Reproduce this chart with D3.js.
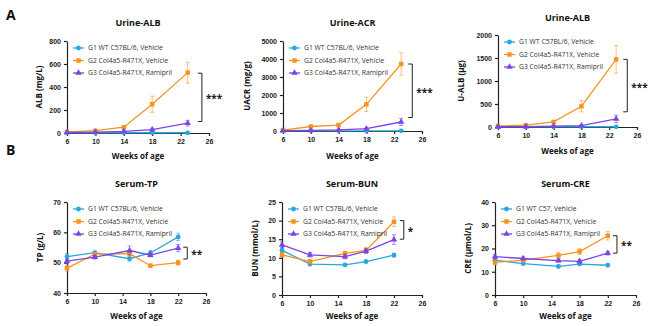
<!DOCTYPE html>
<html>
<head>
<meta charset="utf-8">
<script src="https://cdn.jsdelivr.net/npm/d3@7"></script>
<style>
  body { margin: 0; background: #fff; }
  svg { font-family: "Open Sans", "Noto Sans", sans-serif; }
  .axis path, .axis line { stroke: #222; stroke-width: 1.2; }
  .axis text { font-size: 7px; font-weight: 700; fill: #222; }
</style>
</head>
<body>
<div id="chart"></div>
<script>

// weeks of age at each sampling
var weeksUrine = [6, 10, 14, 18, 23];
var weeksSerum = [6, 10, 15, 18, 22];
var xTicks = [6, 10, 14, 18, 22, 26];

var groupNames = ["G1 WT C57BL/6, Vehicle", "G2 Col4a5-R471X, Vehicle", "G3 Col4a5-R471X, Ramipril"];
var groupNamesCre = ["G1 WT C57, Vehicle", "G2 Col4a5-R471X, Vehicle", "G3 Col4a5-R471X, Ramipril"];
var colors = ["#2aa6df", "#f7941d", "#7a45e4"];

// Urine-ALB (mg/L)
var albG1 = [2, 2, 2, 2, 2],        albG1Err = [1, 1, 1, 1, 1];
var albG2 = [10, 20, 50, 250, 525], albG2Err = [3, 5, 8, 70, 90];
var albG3 = [5, 8, 15, 30, 85],     albG3Err = [2, 2, 4, 8, 25];

// Urine-ACR (mg/g)
var acrG1 = [10, 10, 10, 10, 10],        acrG1Err = [5, 5, 5, 5, 5];
var acrG2 = [50, 250, 330, 1480, 3720],  acrG2Err = [20, 60, 60, 400, 620];
var acrG3 = [20, 30, 60, 130, 500],      acrG3Err = [10, 10, 20, 40, 200];

// Urine-ALB (ug)
var ualbG1 = [5, 5, 5, 5, 5],            ualbG1Err = [2, 2, 2, 2, 2];
var ualbG2 = [20, 40, 110, 450, 1470],   ualbG2Err = [5, 10, 20, 120, 300];
var ualbG3 = [5, 10, 20, 30, 175],       ualbG3Err = [3, 3, 5, 10, 80];

// Serum-TP (g/L)
var tpG1 = [52, 53.3, 51.3, 53.2, 58.5],  tpG1Err = [1, 0.5, 0.8, 0.8, 1.2];
var tpG2 = [48.2, 52.8, 53, 49, 50],      tpG2Err = [1, 0.5, 1, 0.5, 0.8];
var tpG3 = [50.5, 51.8, 54, 52.5, 54.8],  tpG3Err = [0.8, 0.6, 1.5, 0.6, 1.2];

// Serum-BUN (mmol/L)
var bunG1 = [12, 8.3, 8.1, 9, 10.7],      bunG1Err = [0.6, 0.4, 0.4, 0.4, 0.5];
var bunG2 = [10.8, 9, 11.2, 12, 19.7],    bunG2Err = [0.6, 0.5, 0.6, 0.8, 1.3];
var bunG3 = [13.5, 10.8, 10.3, 11.8, 14.9], bunG3Err = [0.8, 0.6, 0.6, 0.6, 1.3];

// Serum-CRE (umol/L)
var creG1 = [15, 13.5, 12.3, 13.3, 12.8], creG1Err = [0.6, 0.5, 0.6, 0.5, 0.5];
var creG2 = [14, 15, 17, 18.7, 25.5],     creG2Err = [1, 0.6, 1.2, 1.2, 1.8];
var creG3 = [16.5, 15.7, 14.8, 14.5, 18], creG3Err = [1, 0.6, 0.6, 0.8, 0.8];

var panels = [
  { title: "Urine-ALB", ylabel: "ALB (mg/L)", weeks: weeksUrine, names: groupNames,
    yDomain: [0, 800], yTicks: [0, 200, 400, 600, 800],
    series: [[albG1, albG1Err], [albG2, albG2Err], [albG3, albG3Err]],
    sig: "***", sigFrom: 520, sigTo: 100, sigAt: 25,
    box: { left: 67, right: 209, top: 41, bottom: 133, titleY: 26, ylabX: 42, xlabY: 159 } },
  { title: "Urine-ACR", ylabel: "UACR (mg/g)", weeks: weeksUrine, names: groupNames,
    yDomain: [0, 5000], yTicks: [0, 1000, 2000, 3000, 4000, 5000],
    series: [[acrG1, acrG1Err], [acrG2, acrG2Err], [acrG3, acrG3Err]],
    sig: "***", sigFrom: 3720, sigTo: 750, sigAt: 24.6,
    box: { left: 283, right: 422, top: 41, bottom: 131, titleY: 26, ylabX: 250, xlabY: 159 } },
  { title: "Urine-ALB", ylabel: "U-ALB (\u03bcg)", weeks: weeksUrine, names: groupNames,
    yDomain: [0, 2000], yTicks: [0, 500, 1000, 1500, 2000],
    series: [[ualbG1, ualbG1Err], [ualbG2, ualbG2Err], [ualbG3, ualbG3Err]],
    sig: "***", sigFrom: 1470, sigTo: 330, sigAt: 24.6,
    box: { left: 498, right: 637, top: 35, bottom: 127, titleY: 21, ylabX: 464, xlabY: 154 } },
  { title: "Serum-TP", ylabel: "TP (g/L)", weeks: weeksSerum, names: groupNames,
    yDomain: [40, 70], yTicks: [40, 50, 60, 70],
    series: [[tpG1, tpG1Err], [tpG2, tpG2Err], [tpG3, tpG3Err]],
    sig: "**", sigFrom: 55.1, sigTo: 51.2, sigAt: 23.3,
    box: { left: 67, right: 206, top: 202, bottom: 293, titleY: 187, ylabX: 43, xlabY: 319 } },
  { title: "Serum-BUN", ylabel: "BUN (mmol/L)", weeks: weeksSerum, names: groupNames,
    yDomain: [0, 25], yTicks: [0, 5, 10, 15, 20, 25],
    series: [[bunG1, bunG1Err], [bunG2, bunG2Err], [bunG3, bunG3Err]],
    sig: "*", sigFrom: 20, sigTo: 15, sigAt: 23.4,
    box: { left: 282, right: 422, top: 202, bottom: 295, titleY: 187, ylabX: 258, xlabY: 319 } },
  { title: "Serum-CRE", ylabel: "CRE (\u03bcmol/L)", weeks: weeksSerum, names: groupNamesCre,
    yDomain: [0, 40], yTicks: [0, 10, 20, 30, 40],
    series: [[creG1, creG1Err], [creG2, creG2Err], [creG3, creG3Err]],
    sig: "**", sigFrom: 25.5, sigTo: 18, sigAt: 23.3,
    box: { left: 495, right: 636, top: 202, bottom: 295, titleY: 187, ylabX: 471, xlabY: 319 } }
];

var svg = d3.select("#chart").append("svg")
  .attr("width", 650)
  .attr("height", 326);

svg.append("text").attr("x", 6).attr("y", 20)
  .style("font-size", "14px").style("font-weight", 700).attr("fill", "#111").text("A");
svg.append("text").attr("x", 6).attr("y", 155)
  .style("font-size", "14px").style("font-weight", 700).attr("fill", "#111").text("B");

var symbols = [d3.symbolCircle, d3.symbolSquare, d3.symbolTriangle];
var symSizes = [18, 20, 18];

panels.forEach(drawPanel);

function drawPanel(p) {
  var b = p.box;
  var g = svg.append("g");

  var x = d3.scaleLinear().domain([6, 26]).range([b.left, b.right]);
  var y = d3.scaleLinear().domain(p.yDomain).range([b.bottom, b.top]);

  g.append("g")
    .attr("class", "axis")
    .attr("transform", "translate(0," + b.bottom + ")")
    .call(d3.axisBottom(x).tickValues(xTicks).tickSize(3).tickSizeOuter(0));

  g.append("g")
    .attr("class", "axis")
    .attr("transform", "translate(" + b.left + ",0)")
    .call(d3.axisLeft(y).tickValues(p.yTicks).tickFormat(d3.format("d")).tickSize(3).tickSizeOuter(0));

  g.append("text")
    .attr("x", (b.left + b.right) / 2).attr("y", b.titleY)
    .attr("text-anchor", "middle")
    .style("font-size", "9px").style("font-weight", 700).attr("fill", "#111")
    .text(p.title);

  g.append("text")
    .attr("x", (b.left + b.right) / 2).attr("y", b.xlabY)
    .attr("text-anchor", "middle")
    .style("font-size", "8px").style("font-weight", 700).attr("fill", "#111")
    .text("Weeks of age");

  g.append("text")
    .attr("transform", "translate(" + b.ylabX + "," + ((b.top + b.bottom) / 2) + ") rotate(-90)")
    .attr("text-anchor", "middle")
    .style("font-size", "8px").style("font-weight", 700).attr("fill", "#111")
    .text(p.ylabel);

  var line = d3.line()
    .x(function (d) { return x(d.w); })
    .y(function (d) { return y(d.v); });

  p.series.forEach(function (s, i) {
    var pts = p.weeks.map(function (w, k) { return { w: w, v: s[0][k], e: s[1][k] }; });
    var sg = g.append("g");

    sg.selectAll(".err").data(pts).enter().append("path")
      .attr("d", function (d) {
        var cx = x(d.w), t = y(d.v + d.e), bo = y(Math.max(p.yDomain[0], d.v - d.e));
        return "M" + (cx - 2) + "," + t + "H" + (cx + 2) + "M" + cx + "," + t + "V" + bo + "M" + (cx - 2) + "," + bo + "H" + (cx + 2);
      })
      .attr("stroke", colors[i]).attr("stroke-opacity", 0.6).attr("stroke-width", 1).attr("fill", "none");

    sg.append("path").datum(pts)
      .attr("d", line)
      .attr("fill", "none").attr("stroke", colors[i]).attr("stroke-width", 1.3);

    sg.selectAll(".pt").data(pts).enter().append("path")
      .attr("transform", function (d) { return "translate(" + x(d.w) + "," + y(d.v) + ")"; })
      .attr("d", d3.symbol().type(symbols[i]).size(symSizes[i]))
      .attr("fill", colors[i]);
  });

  // legend
  p.names.forEach(function (name, i) {
    var ly = b.top + 7 + i * 12.5;
    var lx = b.left + 6;
    g.append("line").attr("x1", lx).attr("x2", lx + 11).attr("y1", ly).attr("y2", ly)
      .attr("stroke", colors[i]).attr("stroke-width", 1.3);
    g.append("path")
      .attr("transform", "translate(" + (lx + 5.5) + "," + ly + ")")
      .attr("d", d3.symbol().type(symbols[i]).size(symSizes[i]))
      .attr("fill", colors[i]);
    g.append("text").attr("x", lx + 15).attr("y", ly + 2.4)
      .style("font-size", "6.8px").attr("fill", "#333").text(name);
  });

  // significance bracket
  var bx = x(p.sigAt), y1 = y(p.sigFrom), y2 = y(p.sigTo);
  g.append("path")
    .attr("d", "M" + (bx - 4) + "," + y1 + "H" + bx + "V" + y2 + "H" + (bx - 4))
    .attr("fill", "none").attr("stroke", "#222").attr("stroke-width", 1);
  g.append("text")
    .attr("x", bx + 4).attr("y", (y1 + y2) / 2 + 5)
    .style("font-size", "10px").style("font-weight", 700).attr("fill", "#222")
    .text(p.sig);
}
</script>
</body>
</html>
